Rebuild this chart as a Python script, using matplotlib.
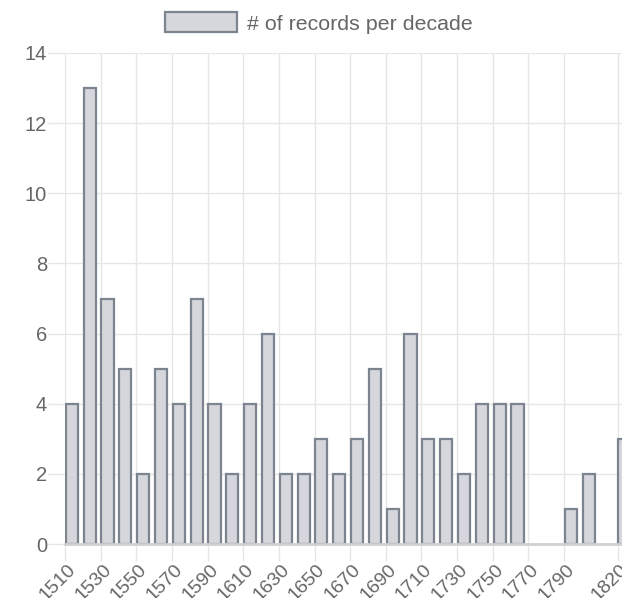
import matplotlib
matplotlib.use("Agg")
import matplotlib.pyplot as plt
from matplotlib.patches import Patch
from matplotlib.transforms import ScaledTranslation

decades = [1510, 1520, 1530, 1540, 1550, 1560, 1570, 1580, 1590, 1600,
           1610, 1620, 1630, 1640, 1650, 1660, 1670, 1680, 1690, 1700,
           1710, 1720, 1730, 1740, 1750, 1760, 1770, 1780, 1790, 1800,
           1810, 1820]
counts = [4, 13, 7, 5, 2, 5, 4, 7, 4, 2,
          4, 6, 2, 2, 3, 2, 3, 5, 1, 6,
          3, 3, 2, 4, 4, 4, 0, 0, 1, 2,
          0, 3]
x_ticks = [1510, 1530, 1550, 1570, 1590, 1610, 1630, 1650, 1670, 1690,
           1710, 1730, 1750, 1770, 1790, 1820]
y_ticks = [0, 2, 4, 6, 8, 10, 12, 14]
label = "# of records per decade"

plt.rcParams['font.family'] = ['Liberation Sans', 'DejaVu Sans']

W, H = 622, 598
fig = plt.figure(figsize=(W / 100, H / 100), dpi=100)
left, right, top, bottom = 65, 622, 53, 544
ax = fig.add_axes([left / W, 1 - bottom / H, (right - left) / W, (bottom - top) / H])

fill = '#d5d7dc'
edge = '#7b848f'
grid = '#e6e6e6'
txt = '#666666'

nz = [(d, c) for d, c in zip(decades, counts) if c > 0]
ax.bar([d + 0.45 for d, _ in nz], [c for _, c in nz], width=6.8, align='edge',
       color=fill, edgecolor=edge, linewidth=1.6, zorder=3, clip_on=True)

ax.set_xlim(1510, 1822.5)
ax.set_ylim(0, 14)
ax.set_xticks(x_ticks)
ax.set_yticks(y_ticks)

ax.grid(True, color=grid, linewidth=1, zorder=0)
ax.tick_params(axis='both', length=12, width=1, color=grid)
ax.tick_params(axis='y', pad=1)
ax.tick_params(axis='x', pad=0)
for s in ['top', 'right']:
    ax.spines[s].set_visible(False)
ax.spines['left'].set_color(grid)
ax.spines['bottom'].set_color('#d0d0d0')
ax.spines['bottom'].set_linewidth(2)
ax.spines['bottom'].set_zorder(4)

ax.set_xticklabels([str(t) for t in x_ticks], rotation=45, ha='right', va='top',
                   rotation_mode='anchor', fontsize=14, color=txt)
ax.set_yticklabels([str(t) for t in y_ticks], fontsize=14.5, color=txt)
off = ScaledTranslation(2 / 100, 0, fig.dpi_scale_trans)
for lab in ax.get_xticklabels():
    lab.set_transform(lab.get_transform() + off)

handle = Patch(facecolor=fill, edgecolor=edge, linewidth=1.6)
fig.legend([handle], [label], loc='center', bbox_to_anchor=(319 / W, 1 - 23 / H),
           frameon=False, fontsize=15.4, handlelength=3.37, handleheight=1.03,
           handletextpad=0.47, labelcolor=txt, borderpad=0, borderaxespad=0)

fig.savefig('out.png', dpi=100)
